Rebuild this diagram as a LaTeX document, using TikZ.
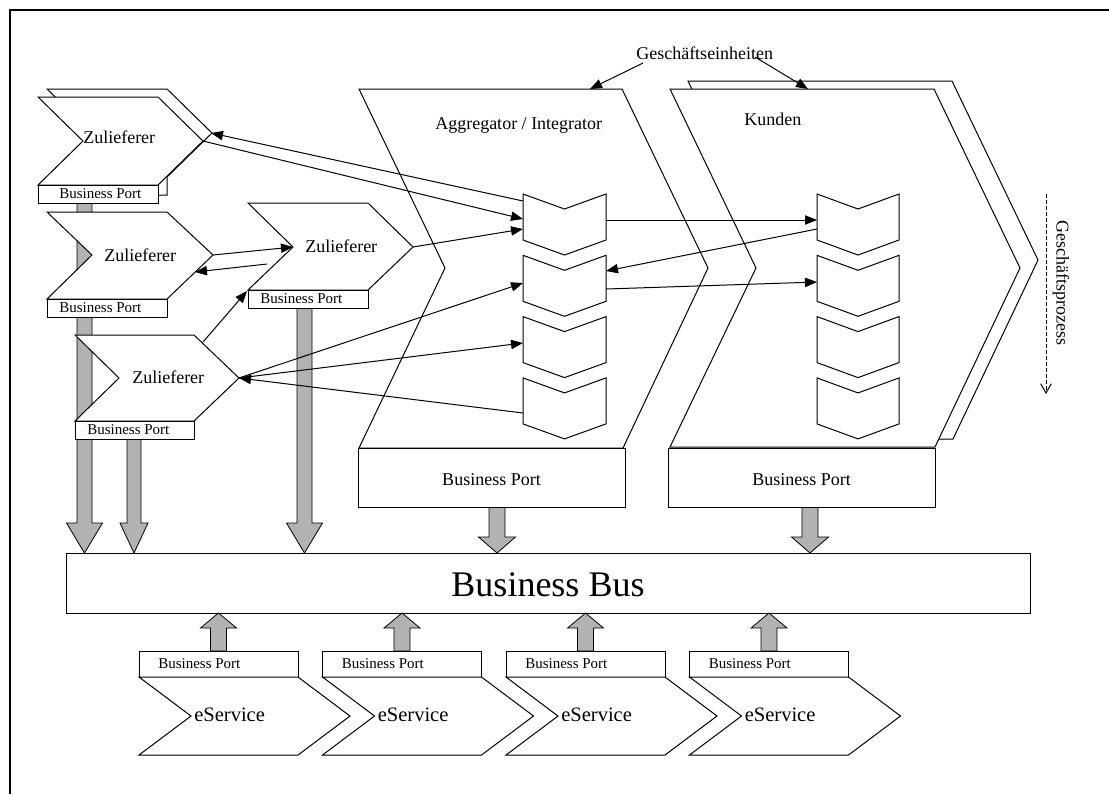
\documentclass[tikz,border=0pt]{standalone}
\usepackage{fontspec}
\setmainfont{Liberation Serif}
\usetikzlibrary{arrows.meta}
\definecolor{bargray}{RGB}{178,178,178}
\tikzset{
  shp/.style={draw=black,line width=0.75pt,fill=white,line join=miter},
  outl/.style={draw=black,line width=0.75pt,line join=miter},
  conn/.style={draw=black,line width=0.75pt,-{Triangle[length=9pt,width=7pt]}},
  garrow/.style={draw=black,line width=0.6pt,fill=bargray},
  tmid/.style={inner sep=0pt,font=\fontsize{13.5}{16}\selectfont},
  tport/.style={inner sep=0pt,font=\fontsize{11.25}{13}\selectfont},
  tbus/.style={inner sep=0pt,font=\fontsize{27}{30}\selectfont},
  tserv/.style={inner sep=0pt,font=\fontsize{15.4}{18}\selectfont},
}
\newcommand\gad[6]{\path[garrow] ({#1-#2},#4) -- ({#1-#2},#5) -- ({#1-#3},#5) -- (#1,#6) -- ({#1+#3},#5) -- ({#1+#2},#5) -- ({#1+#2},#4) -- cycle;}
\begin{document}
\begin{tikzpicture}[x=0.75pt,y=-0.75pt]
\useasboundingbox (0,0) rectangle (1109,794);
\draw[line width=1.5pt] (10,794) -- (10,10) -- (1109,10);

% gray block arrows behind suppliers
\gad{84.5}{7.5}{18}{203}{523}{553}
\gad{134}{7}{14}{439}{523}{553}
\gad{304.5}{7.5}{18}{308}{523}{553}
\gad{497}{8}{18.5}{507}{537}{553}
\gad{810}{8}{18.5}{507}{537}{553}

% Zulieferer 1 with shadow
\path[shp] (47,89) -- (167,89) -- (212,133) -- (167,177) -- (167,195) -- (47,195) -- (47,177) -- (92,133) -- cycle;
\path[shp] (38,97) -- (158,97) -- (203,141) -- (158,185) -- (38,185) -- (83,141) -- cycle;
\path[shp] (38,185) rectangle (158,203);
% Zulieferer 2
\path[shp] (47,212) -- (167,212) -- (213,255) -- (167,299) -- (47,299) -- (92,255) -- cycle;
\path[shp] (47,299) rectangle (167,317);
% Zulieferer 3
\path[shp] (75,335) -- (194,335) -- (239,378) -- (194,421) -- (75,421) -- (119,378) -- cycle;
\path[shp] (75,421) rectangle (194,439);
% Zulieferer 4
\path[shp] (248,203) -- (368,203) -- (413,247) -- (368,290) -- (248,290) -- (293,247) -- cycle;
\path[shp] (248,290) rectangle (368,308);

% Kunden shadow + front, Aggregator
\path[shp] (688,81) -- (952,81) -- (1038,260) -- (953,439) -- (688,439) -- (774,260) -- cycle;
\path[fill=white] (670,89) -- (934,89) -- (1020,268) -- (935,447) -- (670,447) -- (756,268) -- cycle;
\path[outl] (359,89) -- (622,89) -- (708,268) -- (623,448) -- (359,448) -- (445,268) -- cycle;
\path[outl] (670,89) -- (934,89) -- (1020,268) -- (935,447) -- (670,447) -- (756,268) -- cycle;
\path[shp] (358,448) rectangle (625,507);
\path[shp] (668,448) rectangle (935,507);

% process chevrons
\foreach \i in {0,...,3} {
  \pgfmathsetmacro\t{194+61.3*\i}
  \path[shp] (523,\t) -- (564.5,\t+15) -- (606,\t) -- (606,\t+46) -- (564.5,\t+61) -- (523,\t+46) -- cycle;
  \path[shp] (817,\t) -- (858,\t+15) -- (899,\t) -- (899,\t+46) -- (858,\t+61) -- (817,\t+46) -- cycle;
}

% connection points
\coordinate (ag1a) at (523,201);
\coordinate (ag1b) at (523,219);
\coordinate (ag1c) at (523,229);
\coordinate (ag1e) at (606,220);
\coordinate (ag2e1) at (606,271);
\coordinate (ag2e2) at (606,289);
\coordinate (ag2w) at (523,283);
\coordinate (ag3w) at (523,343);
\coordinate (ag4w) at (523,413);
\coordinate (ku1w1) at (817,220);
\coordinate (ku1w2) at (817,229);
\coordinate (ku2w) at (817,282);
\coordinate (z1p) at (203,141);
\coordinate (z1s) at (211,133);
\coordinate (z2p) at (213,255);
\coordinate (z2e) at (195,272);
\coordinate (z3p) at (239,378);
\coordinate (z3e) at (203,342);
\coordinate (z4n) at (293,247);
\coordinate (z4c) at (247,291);
\coordinate (z4p) at (413,247);
\coordinate (z4e) at (267,264);
\coordinate (ge1) at (643,63);
\coordinate (ge2) at (755,57);
\coordinate (agtop) at (590,89);
\coordinate (kutop) at (808,89);
\coordinate (gpa) at (1046,194);
\coordinate (gpb) at (1046,394);

% connectors
\draw[conn] (ag1a) -- (z1s);
\draw[conn] (z1p) -- (ag1b);
\draw[conn] (z4p) -- (ag1c);
\draw[conn] (z2p) -- (z4n);
\draw[conn] (z4e) -- (z2e);
\draw[conn] (z3e) -- (z4c);
\draw[conn] (z3p) -- (ag2w);
\draw[conn] (z3p) -- (ag3w);
\draw[conn] (ag4w) -- (z3p);
\draw[conn] (ag1e) -- (ku1w1);
\draw[conn] (ku1w2) -- (ag2e1);
\draw[conn] (ag2e2) -- (ku2w);
\draw[conn] (ge1) -- (agtop);
\draw[conn] (ge2) -- (kutop);
\draw[line width=0.75pt,dash pattern=on 3pt off 1.5pt,-{Straight Barb[length=7pt,width=8pt]}] (gpa) -- (gpb);

% texts
\node[tmid,anchor=base west] (z1t) at (83,143) {Zulieferer};
\node[tmid,anchor=base west] (z2t) at (104,261) {Zulieferer};
\node[tmid,anchor=base west] (z3t) at (132,383) {Zulieferer};
\node[tmid,anchor=base west] (z4t) at (305,252) {Zulieferer};
\node[tport,anchor=base west] (z1bp) at (59,198) {Business Port};
\node[tport,anchor=base west] (z2bp) at (59,312) {Business Port};
\node[tport,anchor=base west] (z3bp) at (87,434) {Business Port};
\node[tport,anchor=base west] (z4bp) at (260,303) {Business Port};
\node[tmid,anchor=base west] (agt) at (435,129) {Aggregator / Integrator};
\node[tmid,anchor=base west] (kut) at (744,125) {Kunden};
\node[tmid,anchor=base west] (get) at (636,59) {Geschäftseinheiten};
\node[tmid,anchor=base] (agbp) at (491.5,485) {Business Port};
\node[tmid,anchor=base] (kubp) at (801.5,485) {Business Port};
\node[tmid,rotate=-90] (gpt) at (1061,283) {Geschäftsprozess};

% Business Bus
\path[shp] (66,553) rectangle (1030,613);
\node[tbus,anchor=base] (bus) at (548,596) {Business Bus};

% eServices
\foreach \x [count=\k] in {139,322.5,506,689.5} {
  \gad{\x+79.5}{8}{18}{651}{628}{613}
  \path[shp] (\x,651) rectangle (\x+159,677);
  \path[shp] (\x,677) -- (\x+159,677) -- (\x+211,716) -- (\x+159,755) -- (\x,755) -- (\x+52,716) -- cycle;
  \node[tport,anchor=base west] (sbp\k) at (\x+19,668) {Business Port};
  \node[tserv,anchor=base west] (es\k) at (\x+55,721) {eService};
}
\end{tikzpicture}
\end{document}
